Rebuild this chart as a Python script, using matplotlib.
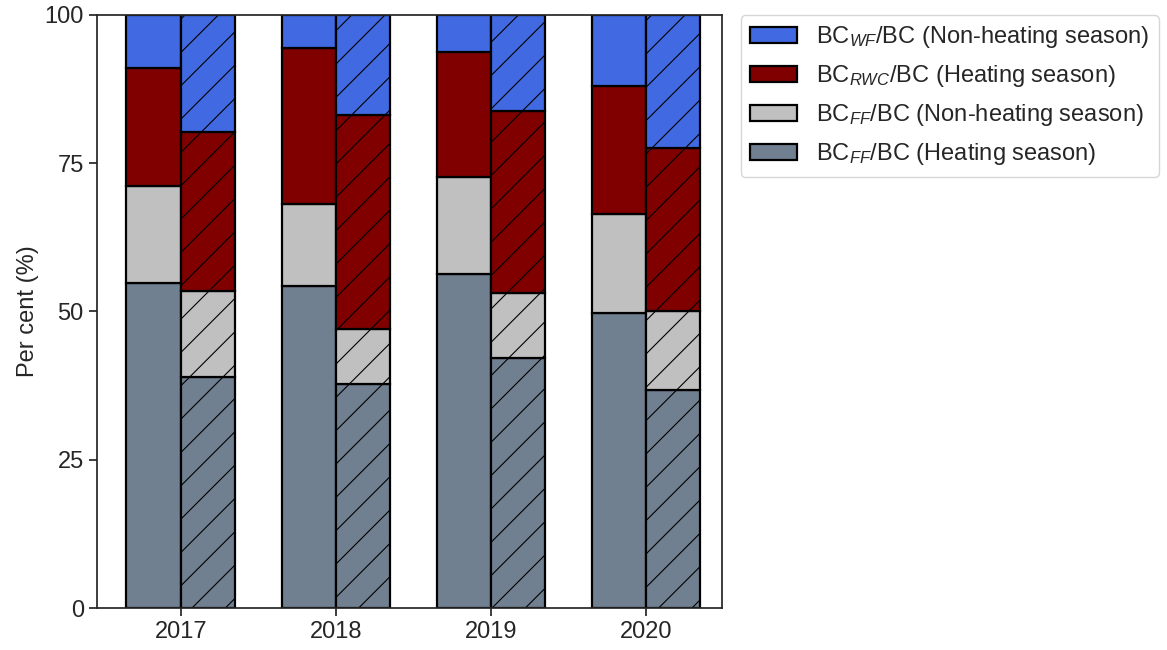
import numpy as np
import matplotlib
matplotlib.use("Agg")
import matplotlib.pyplot as plt
import seaborn as sns

# Source-apportioned black carbon shares per year (%)
years = ["2017", "2018", "2019", "2020"]

# Solid bars
ff_heat_a = [54.8, 54.3, 56.4, 49.8]
ff_non_a = [16.4, 13.9, 16.2, 16.6]
rwc_a = [19.8, 26.3, 21.2, 21.6]
wf_a = [9.0, 5.5, 6.2, 12.0]

# Hatched bars
ff_heat_b = [39.0, 37.7, 42.1, 36.8]
ff_non_b = [14.5, 9.3, 11.1, 13.2]
rwc_b = [26.8, 36.1, 30.6, 27.5]
wf_b = [19.7, 16.9, 16.2, 22.5]

labels = [r"BC$_{WF}$/BC (Non-heating season)",
          r"BC$_{RWC}$/BC (Heating season)",
          r"BC$_{FF}$/BC (Non-heating season)",
          r"BC$_{FF}$/BC (Heating season)"]
colors = ["slategray", "silver", "maroon", "royalblue"]

sns.set_theme(style="ticks")
plt.rcParams["font.family"] = ["Liberation Sans", "DejaVu Sans"]
plt.rcParams["mathtext.fontset"] = "custom"
plt.rcParams["mathtext.rm"] = "Liberation Sans"
plt.rcParams["mathtext.it"] = "Liberation Sans:italic"
plt.rcParams["hatch.linewidth"] = 0.8
plt.rcParams["hatch.color"] = "black"

FS = 17

fig = plt.figure(figsize=(11.67, 6.5), dpi=100)
ax = fig.add_axes([0.0831, 0.0646, 0.5356, 0.9124])

x = np.arange(len(years))
w = 0.35

def stack(xpos, parts, hatch):
    bottom = np.zeros(len(years))
    handles = []
    for vals, c in zip(parts, colors):
        h = ax.bar(xpos, vals, w, bottom=bottom, color=c, edgecolor="black",
                   linewidth=1.6, hatch=hatch, align="edge")
        bottom += np.array(vals)
        handles.append(h)
    return handles

hA = stack(x - w, [ff_heat_a, ff_non_a, rwc_a, wf_a], None)
hB = stack(x, [ff_heat_b, ff_non_b, rwc_b, wf_b], "/")

ax.set_xticks(x)
ax.set_xticklabels(years, fontsize=FS)
ax.set_xlim(-0.54, 3.49)
ax.set_ylim(0, 100)
ax.set_yticks([0, 25, 50, 75, 100])
ax.tick_params(axis="y", labelsize=FS)
ax.set_ylabel("Per cent (%)", fontsize=FS)

ax.legend(hA[::-1], labels, loc="upper left", bbox_to_anchor=(1.03, 1.0),
          borderaxespad=0, fontsize=FS, labelspacing=0.55)

fig.savefig("out.png", dpi=100)
